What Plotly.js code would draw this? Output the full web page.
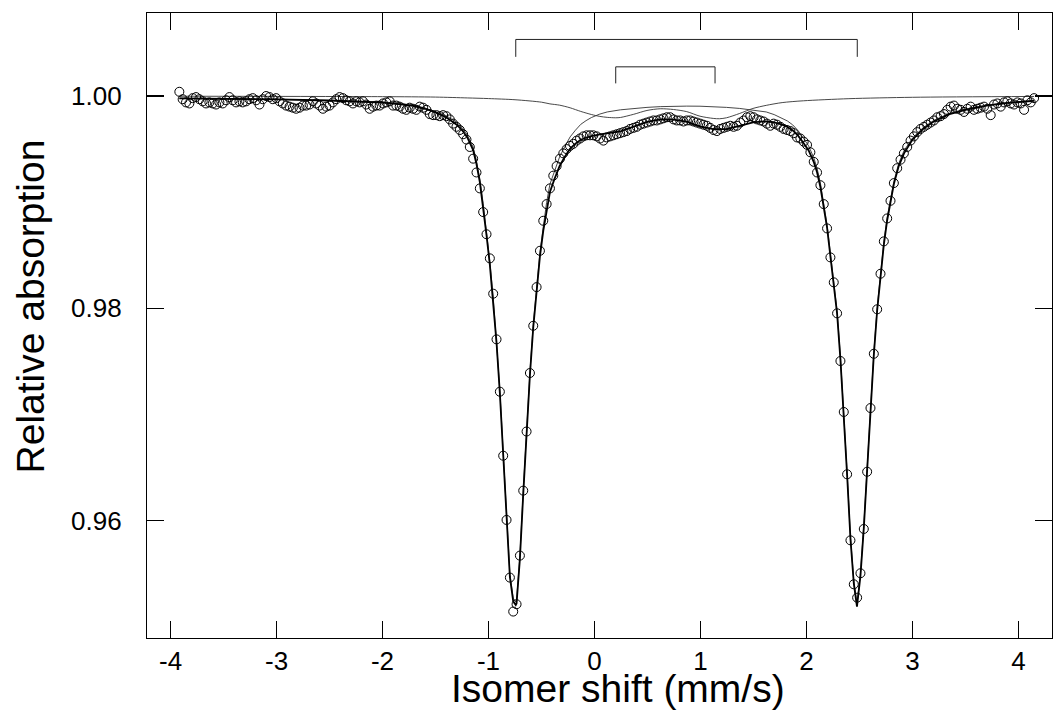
<!DOCTYPE html>
<html>
<head>
<meta charset="utf-8">
<script src="https://cdn.plot.ly/plotly-3.0.1.min.js"></script>
<style>html,body{margin:0;padding:0;background:#fff;}#chart{width:1053px;height:723px;}</style>
</head>
<body>
<div id="chart"></div>
<script>
// Velocity channels (mm/s)
const velocity = [
-3.917,-3.8855,-3.854,-3.8225,-3.791,-3.7595,-3.728,-3.6965,-3.665,-3.6335,
-3.602,-3.5705,-3.539,-3.5075,-3.476,-3.4445,-3.413,-3.3815,-3.350,-3.3185,
-3.287,-3.2555,-3.224,-3.1925,-3.161,-3.1295,-3.098,-3.0665,-3.035,-3.0035,
-2.972,-2.9405,-2.909,-2.8775,-2.846,-2.8145,-2.783,-2.7515,-2.720,-2.6885,
-2.657,-2.6255,-2.594,-2.5625,-2.531,-2.4995,-2.468,-2.4365,-2.405,-2.3735,
-2.342,-2.3105,-2.279,-2.2475,-2.216,-2.1845,-2.153,-2.1215,-2.090,-2.0585,
-2.027,-1.9955,-1.964,-1.9325,-1.901,-1.8695,-1.838,-1.8065,-1.775,-1.7435,
-1.712,-1.6805,-1.649,-1.6175,-1.586,-1.5545,-1.523,-1.4915,-1.460,-1.4285,
-1.397,-1.3655,-1.334,-1.3025,-1.271,-1.2395,-1.208,-1.1765,-1.145,-1.1135,
-1.082,-1.0505,-1.019,-0.9875,-0.956,-0.9245,-0.893,-0.8615,-0.830,-0.7985,
-0.767,-0.7355,-0.704,-0.6725,-0.641,-0.6095,-0.578,-0.5465,-0.515,-0.4835,
-0.452,-0.4205,-0.389,-0.3575,-0.326,-0.2945,-0.263,-0.2315,-0.200,-0.1685,
-0.137,-0.1055,-0.074,-0.0425,-0.011,0.0205,0.052,0.0835,0.115,0.1465,
0.178,0.2095,0.241,0.2725,0.304,0.3355,0.367,0.3985,0.430,0.4615,
0.493,0.5245,0.556,0.5875,0.619,0.6505,0.682,0.7135,0.745,0.7765,
0.808,0.8395,0.871,0.9025,0.934,0.9655,0.997,1.0285,1.060,1.0915,
1.123,1.1545,1.186,1.2175,1.249,1.2805,1.312,1.3435,1.375,1.4065,
1.438,1.4695,1.501,1.5325,1.564,1.5955,1.627,1.6585,1.690,1.7215,
1.753,1.7845,1.816,1.8475,1.879,1.9105,1.942,1.9735,2.005,2.0365,
2.068,2.0995,2.131,2.1625,2.194,2.2255,2.257,2.2885,2.320,2.3515,
2.383,2.4145,2.446,2.4775,2.509,2.5405,2.572,2.6035,2.635,2.6665,
2.698,2.7295,2.761,2.7925,2.824,2.8555,2.887,2.9185,2.950,2.9815,
3.013,3.0445,3.076,3.1075,3.139,3.1705,3.202,3.2335,3.265,3.2965,
3.328,3.3595,3.391,3.4225,3.454,3.4855,3.517,3.5485,3.580,3.6115,
3.643,3.6745,3.706,3.7375,3.769,3.8005,3.832,3.8635,3.895,3.9265,
3.958,3.9895,4.021,4.0525,4.084,4.1155,4.147
];
// Measured relative absorption
const absorption = [
1.0004,0.9997,0.9994,0.9993,0.9998,0.9999,0.9997,0.9995,0.9993,0.9994,
0.9993,0.9992,0.9994,0.9993,0.9996,0.9999,0.9996,0.9994,0.9995,0.9994,
0.9995,0.9997,0.9998,0.9996,0.9992,0.9997,1.0000,0.9999,0.9997,0.9998,
0.9995,0.9993,0.9991,0.9990,0.9989,0.9988,0.9989,0.9991,0.9991,0.9992,
0.9995,0.9993,0.9991,0.9988,0.9990,0.9991,0.9994,0.9997,0.9999,0.9998,
0.9996,0.9995,0.9993,0.9995,0.9994,0.9995,0.9992,0.9988,0.9990,0.9991,
0.9991,0.9993,0.9994,0.9995,0.9991,0.9991,0.9990,0.9988,0.9987,0.9989,
0.9988,0.9987,0.9990,0.9989,0.9987,0.9983,0.9982,0.9982,0.9981,0.9982,
0.9981,0.9978,0.9974,0.9971,0.9968,0.9964,0.9959,0.9952,0.9941,0.9928,
0.9913,0.98907,0.98698,0.98471,0.98138,0.97708,0.97215,0.96612,0.96007,0.95464,
0.95144,0.95213,0.95671,0.96283,0.96840,0.97391,0.97836,0.98200,0.98542,0.98825,
0.98982,0.9913,0.9925,0.9934,0.9941,0.9946,0.9950,0.9953,0.9955,0.9958,
0.9960,0.9962,0.9963,0.9963,0.9963,0.9962,0.9960,0.9958,0.9961,0.9962,
0.9963,0.9964,0.9965,0.9966,0.9967,0.9969,0.9970,0.9971,0.9973,0.9974,
0.9975,0.9976,0.9977,0.9977,0.9978,0.9979,0.9980,0.9980,0.9978,0.9977,
0.9977,0.9976,0.9977,0.9977,0.9976,0.9975,0.9974,0.9973,0.9972,0.9970,
0.9968,0.9967,0.9969,0.9970,0.9971,0.9972,0.9971,0.9972,0.9975,0.9977,
0.9980,0.9981,0.9980,0.9978,0.9977,0.9976,0.9974,0.9972,0.9974,0.9973,
0.9971,0.9969,0.9968,0.9967,0.9965,0.9961,0.9960,0.9957,0.9954,0.9947,
0.9938,0.9928,0.9916,0.98982,0.98753,0.98480,0.98245,0.97953,0.97504,0.97024,
0.96437,0.95815,0.95401,0.95275,0.95505,0.95922,0.96461,0.97061,0.97572,0.97991,
0.98326,0.98631,0.98847,0.99013,0.9918,0.9932,0.9940,0.9946,0.9952,0.9958,
0.9962,0.9966,0.9969,0.9971,0.9973,0.9975,0.9977,0.9980,0.9981,0.9983,
0.9987,0.9990,0.9991,0.9988,0.9987,0.9985,0.9988,0.9990,0.9987,0.9988,
0.9989,0.9990,0.9988,0.9982,0.9992,0.9993,0.9990,0.9994,0.9995,0.9993,
0.9992,0.9994,0.9993,0.9987,0.9996,0.9994,0.9998
];
// Total fitted envelope
const fitX = [-3.917,-3.5,-3.0,-2.5,-2.2,-2.0,-1.8,-1.7,-1.6,-1.5,-1.4,-1.3,-1.25,-1.2,-1.145,-1.1135,-1.082,-1.0505,-1.019,-0.9875,-0.956,-0.9245,-0.893,-0.8615,-0.830,-0.7985,-0.767,-0.743,-0.7355,-0.704,-0.6725,-0.641,-0.6095,-0.578,-0.5465,-0.515,-0.4835,-0.452,-0.4205,-0.38,-0.33,-0.28,-0.23,-0.18,-0.13,-0.08,-0.03,0.05,0.12,0.245,0.37,0.495,0.62,0.745,0.87,0.995,1.12,1.245,1.37,1.495,1.62,1.695,1.77,1.82,1.87,1.92,1.97,2.02,2.07,2.0995,2.131,2.1625,2.194,2.2255,2.257,2.2885,2.32,2.3515,2.383,2.4145,2.446,2.476,2.509,2.5405,2.572,2.6035,2.635,2.6665,2.698,2.7295,2.761,2.7925,2.824,2.87,2.92,3.0,3.1,3.2,3.35,3.5,3.7,3.9,4.147];
const fitY = [0.99978,0.99975,0.99968,0.99958,0.99948,0.99938,0.9992,0.99905,0.9988,0.99845,0.9980,0.9973,0.9968,0.9961,0.9949,0.9936,0.9919,0.9896,0.9869,0.9841,0.9808,0.9768,0.9720,0.9662,0.9600,0.9547,0.9524,0.95205,0.9522,0.9564,0.9625,0.9685,0.9737,0.9782,0.9818,0.9849,0.9873,0.9893,0.99096,0.99212,0.99339,0.99428,0.99504,0.99552,0.99588,0.99607,0.99623,0.99638,0.99649,0.99668,0.99711,0.99757,0.9978,0.99777,0.99758,0.99714,0.99689,0.99688,0.99719,0.99752,0.99762,0.99751,0.99731,0.99708,0.99676,0.99627,0.9956,0.99488,0.99375,0.99282,0.99143,0.98965,0.9876,0.9849,0.9823,0.9795,0.9752,0.9701,0.9643,0.9583,0.9541,0.9519,0.9548,0.9593,0.9647,0.9705,0.9756,0.9798,0.9831,0.9860,0.9883,0.9902,0.9917,0.9934,0.9946,0.9959,0.9969,0.9976,0.9983,0.9987,0.9991,0.99935,0.99955];
// Sub-spectrum 1: large quadrupole doublet
const doubletAY = [0.9998,0.9997,0.9997,0.9996,0.9995,0.99945,0.99926,0.99912,0.99888,0.99855,0.99815,0.99752,0.99703,0.99635,0.99518,0.99388,0.99218,0.98988,0.98718,0.98438,0.98108,0.97708,0.9723,0.9665,0.9603,0.955,0.9527,0.95235,0.9525,0.9567,0.9628,0.9688,0.974,0.9785,0.9821,0.98525,0.98768,0.98998,0.9917,0.9929,0.99425,0.99525,0.99615,0.99678,0.99733,0.99768,0.99797,0.9983,0.9985,0.9987,0.99883,0.99893,0.999,0.99904,0.99905,0.99904,0.999,0.99893,0.99883,0.99869,0.9985,0.99825,0.99793,0.99765,0.99728,0.99675,0.99605,0.9953,0.99415,0.9932,0.9918,0.9900,0.98787,0.98516,0.98256,0.97976,0.97546,0.97036,0.96456,0.95856,0.95436,0.95216,0.95506,0.95956,0.96496,0.97076,0.97586,0.98006,0.98336,0.98626,0.98856,0.99046,0.99196,0.99365,0.99485,0.99605,0.99702,0.9977,0.99838,0.99877,0.99914,0.99938,0.99958];
// Sub-spectrum 2: small quadrupole doublet
const doubletBX = [-3.917,-2.0,-1.5,-1.2,-1.0,-0.75,-0.5,-0.4205,-0.33,-0.23,-0.13,-0.03,0.05,0.12,0.2,0.245,0.37,0.495,0.62,0.745,0.87,0.995,1.12,1.18,1.245,1.37,1.495,1.62,1.77,1.97,2.4,3.0,4.147];
const doubletBY = [0.99998,0.99994,0.9999,0.99982,0.99976,0.99965,0.99942,0.99926,0.99914,0.99889,0.99855,0.99826,0.99808,0.99799,0.99795,0.99798,0.99828,0.99864,0.9988,0.99873,0.99853,0.9981,0.99789,0.99786,0.99795,0.99836,0.99883,0.99912,0.99938,0.99955,0.99975,0.99988,0.99996];
// Line-position brackets
const bracketAX = [-0.743,-0.743,2.479,2.479];
const bracketAY = [1.00369,1.00533,1.00533,1.00369];
const bracketBX = [0.200,0.200,1.137,1.137];
const bracketBY = [1.00119,1.00275,1.00275,1.00119];
const xTicks = [-4,-3,-2,-1,0,1,2,3,4];
const xTickText = ['-4','-3','-2','-1','0','1','2','3','4'];
const yTicks = [0.96,0.98,1.00];
const yTickText = ['0.96','0.98','1.00'];

const FONT = 'Liberation Sans, Arial, Helvetica, sans-serif';
const traces = [
  {x: bracketAX, y: bracketAY, mode:'lines', line:{color:'#222', width:1}, hoverinfo:'skip'},
  {x: bracketBX, y: bracketBY, mode:'lines', line:{color:'#222', width:1}, hoverinfo:'skip'},
  {x: doubletBX, y: doubletBY, mode:'lines', line:{color:'#333', width:0.9, shape:'spline', smoothing:0.8}},
  {x: fitX, y: doubletAY, mode:'lines', line:{color:'#333', width:0.9}},
  {x: fitX, y: fitY, mode:'lines', line:{color:'#000', width:1.8}},
  {x: velocity, y: absorption, mode:'markers', marker:{symbol:'circle-open', size:9, color:'#000', line:{width:1, color:'#000'}}}
];
const axisCommon = {
  showgrid:false, zeroline:false, showline:true, linecolor:'#000', linewidth:1.2,
  ticks:'inside', ticklen:17, tickwidth:1.2, tickcolor:'#000', mirror:'ticks',
  tickfont:{family:FONT, size:26, color:'#000'}
};
const layout = {
  width:1053, height:723,
  margin:{l:147, r:1, t:13, b:85},
  paper_bgcolor:'#fff', plot_bgcolor:'#fff',
  showlegend:false,
  xaxis: Object.assign({}, axisCommon, {range:[-4.222, 4.316], tickmode:'array', tickvals:xTicks, ticktext:xTickText, ticklabelstandoff:0}),
  yaxis: Object.assign({}, axisCommon, {range:[0.94895, 1.00782], tickmode:'array', tickvals:yTicks, ticktext:yTickText, ticklabelstandoff:19}),
  annotations:[
    {text:'Isomer shift (mm/s)', xref:'paper', yref:'paper', x:0.5199, y:-0.081, xanchor:'center', yanchor:'middle', showarrow:false, font:{family:FONT, size:39, color:'#000'}},
    {text:'Relative absorption', xref:'paper', yref:'paper', x:-0.1282, y:0.5304, xanchor:'center', yanchor:'middle', textangle:-90, showarrow:false, font:{family:FONT, size:39, color:'#000'}}
  ]
};
Plotly.newPlot('chart', traces, layout, {displayModeBar:false, staticPlot:true});
</script>
</body>
</html>
